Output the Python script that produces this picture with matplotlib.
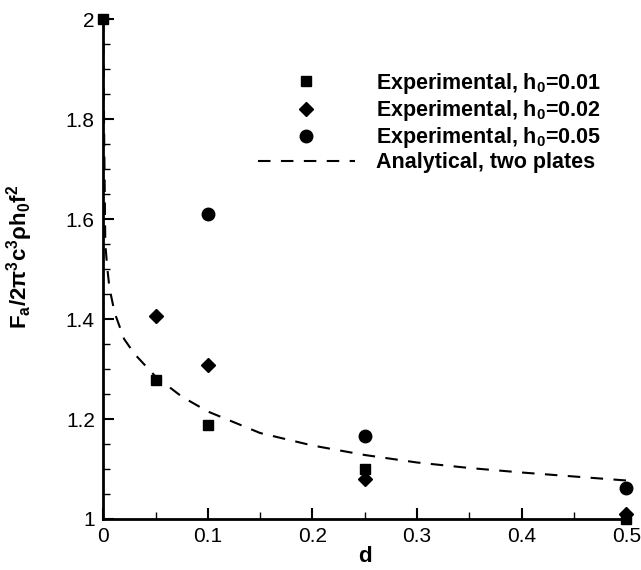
"""Aerodynamic force ratio vs d: experiments and two-plate analytical curve."""

import matplotlib
matplotlib.use("Agg")
import matplotlib.pyplot as plt
from matplotlib.ticker import MultipleLocator, FormatStrFormatter

# Experimental data
d_h001 = [0.0, 0.05, 0.1, 0.25, 0.5]
f_h001 = [2.0, 1.279, 1.189, 1.099, 1.0]

d_h002 = [0.05, 0.1, 0.25, 0.5]
f_h002 = [1.406, 1.309, 1.079, 1.01]

d_h005 = [0.1, 0.25, 0.5]
f_h005 = [1.61, 1.166, 1.061]

# Analytical curve (two plates)
d_ana = [0.0, 0.001, 0.002, 0.004, 0.006, 0.011, 0.02, 0.03, 0.05, 0.075,
         0.1, 0.15, 0.2, 0.25, 0.3, 0.35, 0.4, 0.45, 0.5]
f_ana = [2.0, 1.75, 1.55, 1.50, 1.462, 1.412, 1.36, 1.33, 1.285, 1.245,
         1.215, 1.172, 1.147, 1.128, 1.113, 1.102, 1.093, 1.085, 1.077]

plt.rcParams['font.family'] = ['Liberation Sans', 'DejaVu Sans']
plt.rcParams['mathtext.fontset'] = 'custom'
plt.rcParams['mathtext.rm'] = 'Liberation Sans:bold'
plt.rcParams['mathtext.bf'] = 'Liberation Sans:bold'
plt.rcParams['mathtext.it'] = 'Liberation Sans:bold'

fig = plt.figure(figsize=(6.41, 5.70), dpi=100)
ax = fig.add_axes([0.161, 0.0895, 0.816, 0.877])

ax.plot(d_h001, f_h001, ls='none', marker='s', ms=7, color='black',
        clip_on=False, label='Experimental, h$_0$=0.01')
ax.plot(d_h002, f_h002, ls='none', marker='D', ms=7, color='black',
        clip_on=False, label='Experimental, h$_0$=0.02')
ax.plot(d_h005, f_h005, ls='none', marker='o', ms=9, color='black',
        clip_on=False, label='Experimental, h$_0$=0.05')
ax.plot(d_ana, f_ana, color='black', lw=1.5, dashes=(6, 5),
        label='Analytical, two plates')

ax.set_xlim(0, 0.5)
ax.set_ylim(1, 2)
ax.xaxis.set_major_locator(MultipleLocator(0.1))
ax.xaxis.set_minor_locator(MultipleLocator(0.05))
ax.yaxis.set_major_locator(MultipleLocator(0.2))
ax.yaxis.set_minor_locator(MultipleLocator(0.05))
ax.xaxis.set_major_formatter(FormatStrFormatter('%g'))
ax.yaxis.set_major_formatter(FormatStrFormatter('%g'))

for side in ['top', 'right']:
    ax.spines[side].set_visible(False)
for side in ['left', 'bottom']:
    ax.spines[side].set_linewidth(2)

ax.tick_params(which='major', direction='in', length=8, width=1.5,
               labelsize=15, pad=6)
ax.tick_params(which='minor', direction='in', length=5, width=1)

ax.set_xlabel('d', fontsize=16, fontweight='bold', labelpad=0)
ax.set_ylabel(r'$\mathbf{F_a/2\pi^3c^3\rho h_0f^2}$', fontsize=16)
ax.yaxis.set_label_coords(-0.13, 0.525)

ax.legend(loc='upper left', bbox_to_anchor=(258 / 641, 1 - 71 / 570),
          bbox_transform=fig.transFigure, frameon=False,
          prop={'weight': 'bold', 'size': 15.5}, handlelength=4.5,
          handletextpad=1.0, labelspacing=0.1, borderpad=0, borderaxespad=0)

fig.savefig('out.png', dpi=100)
